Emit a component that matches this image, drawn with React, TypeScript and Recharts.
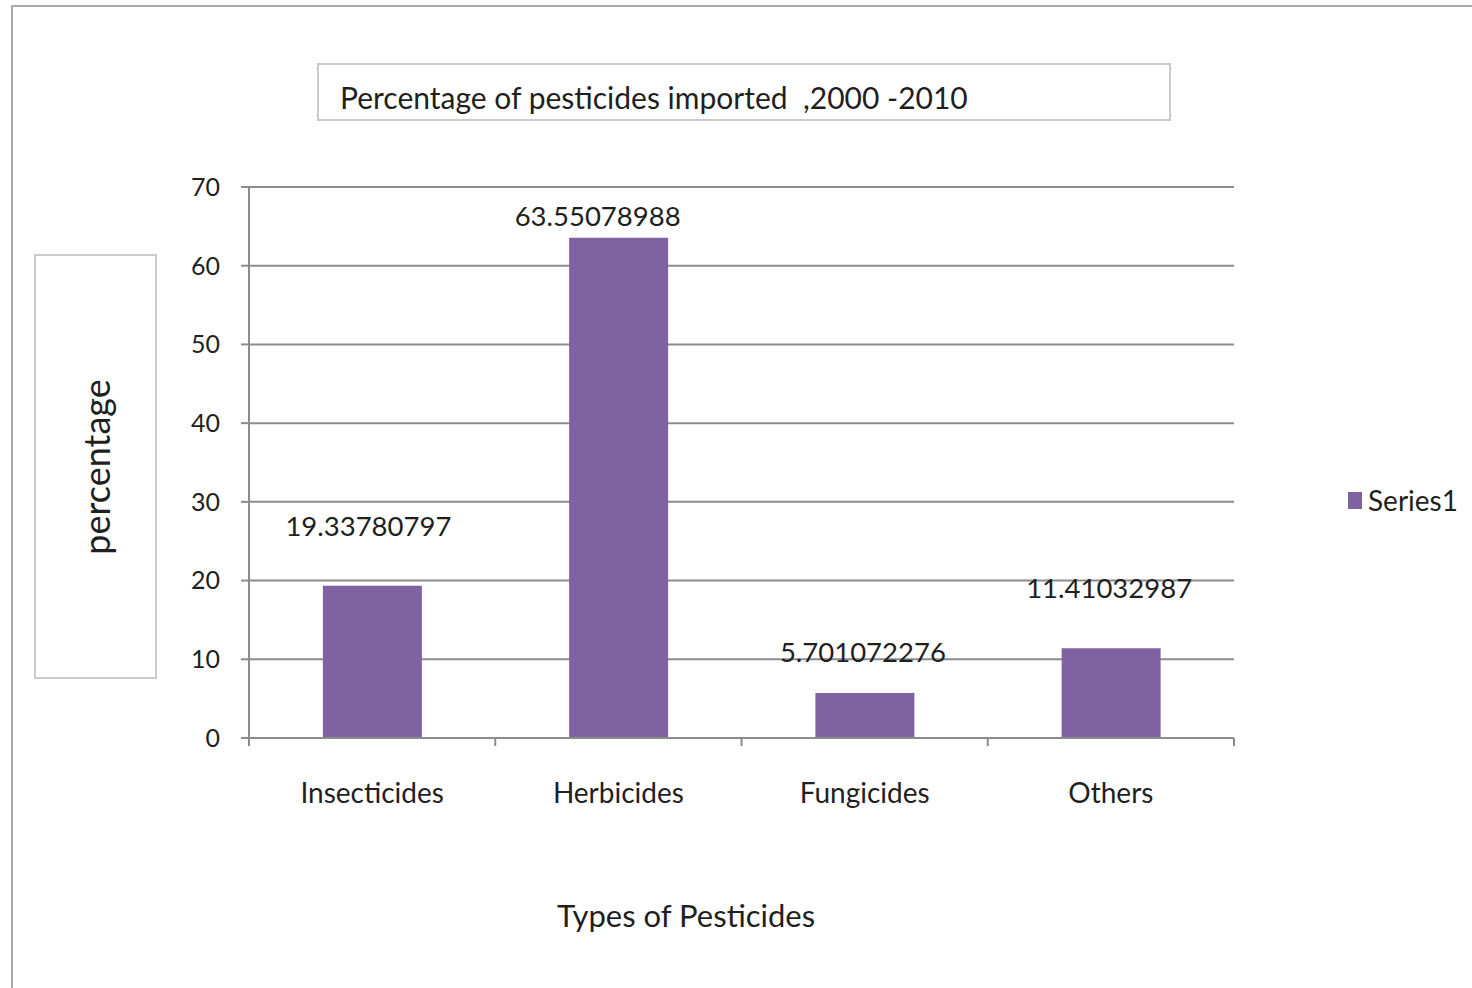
import React from "react";
import { Bar, BarChart, CartesianGrid, LabelList, XAxis, YAxis } from "recharts";

const categories = ["Insecticides", "Herbicides", "Fungicides", "Others"];
const shares = [19.33780797, 63.55078988, 5.701072276, 11.41032987];
const yTicks = [0, 10, 20, 30, 40, 50, 60, 70];
const seriesName = "Series1";

const rows = categories.map((name, i) => ({ name, share: shares[i] }));

// the value labels were dragged around by hand, so each one gets its own nudge
const labelNudge: Record<string, { dx: number; dy: number }> = {
  Insecticides: { dx: -4, dy: -60 },
  Herbicides: { dx: -21, dy: -22 },
  Fungicides: { dx: -2, dy: -42 },
  Others: { dx: -2, dy: -61 },
};

const FONT = "Lato, 'Open Sans', sans-serif";
const PURPLE = "#7f62a1";
const GRID = "#8c8c8c";
const TEXT = "#1f1f1f";

const MARGIN = { top: 187, right: 238, bottom: 190, left: 189 };
const Y_AXIS_W = 60;

// category label plus tick marks on the category boundaries (Excel style)
function CategoryTick(props: any) {
  const { x, y, payload, index, visibleTicksCount } = props;
  const half =
    payload?.offset ?? (1472 - MARGIN.left - Y_AXIS_W - MARGIN.right) / categories.length / 2;
  const last = index === (visibleTicksCount ?? categories.length) - 1;
  return (
    <g>
      <line x1={x - half} y1={y} x2={x - half} y2={y + 8} stroke={GRID} strokeWidth={2} />
      {last && <line x1={x + half} y1={y} x2={x + half} y2={y + 8} stroke={GRID} strokeWidth={2} />}
      <text x={x} y={y + 45} dy="0.71em" textAnchor="middle" fontSize={28} fill={TEXT} fontFamily={FONT}>
        {payload.value}
      </text>
    </g>
  );
}

function ValueLabel(props: any) {
  const { x, y, width, value, index } = props;
  const n = labelNudge[categories[index]] ?? { dx: 0, dy: -20 };
  return (
    <text
      x={x + width / 2 + n.dx}
      y={y + n.dy}
      textAnchor="middle"
      dominantBaseline="central"
      fontSize={27.5}
      fill={TEXT}
      fontFamily={FONT}
    >
      {String(value)}
    </text>
  );
}

export default function App() {
  return (
    <div
      style={{
        position: "absolute",
        left: 0,
        top: 0,
        width: 1472,
        height: 988,
        overflow: "hidden",
        background: "#fff",
        fontFamily: FONT,
        color: TEXT,
      }}
    >
      {/* chart area frame, runs off the right and bottom edges */}
      <div
        style={{
          position: "absolute",
          left: 11,
          top: 5,
          width: 1500,
          height: 1000,
          borderLeft: "2px solid #a9a9a9",
          borderTop: "2px solid #a9a9a9",
        }}
      />

      <BarChart
        width={1472}
        height={988}
        data={rows}
        margin={MARGIN}
        barCategoryGap="30%"
        style={{ position: "absolute", left: 0, top: 0 }}
      >
        <CartesianGrid vertical={false} stroke={GRID} strokeWidth={2} />
        <XAxis
          dataKey="name"
          height={60}
          interval={0}
          tickSize={0}
          tickMargin={0}
          tickLine={false}
          axisLine={{ stroke: GRID, strokeWidth: 2 }}
          tick={<CategoryTick />}
        />
        <YAxis
          width={Y_AXIS_W}
          domain={[0, 70]}
          ticks={yTicks}
          interval={0}
          tickSize={8}
          tickMargin={21}
          axisLine={{ stroke: GRID, strokeWidth: 2 }}
          tickLine={{ stroke: GRID, strokeWidth: 2 }}
          tick={{ fontSize: 25, fill: TEXT, fontFamily: FONT }}
        />
        <Bar dataKey="share" name={seriesName} fill={PURPLE} isAnimationActive={false}>
          <LabelList dataKey="share" content={<ValueLabel />} />
        </Bar>
      </BarChart>

      {/* chart title box */}
      <div
        style={{
          position: "absolute",
          left: 317,
          top: 63,
          width: 829,
          height: 49,
          paddingLeft: 21,
          paddingTop: 5,
          border: "2px solid #cbcbcb",
          fontSize: 30,
          lineHeight: "54px",
          whiteSpace: "pre",
        }}
      >
        {"Percentage of pesticides imported  ,2000 -2010"}
      </div>

      {/* value axis title box */}
      <div
        style={{
          position: "absolute",
          left: 34,
          top: 254,
          width: 119,
          height: 421,
          border: "2px solid #cbcbcb",
        }}
      >
        <div
          style={{
            position: "absolute",
            left: "50%",
            top: "50%",
            transform: "translate(-50%, -50%) rotate(-90deg)",
            fontSize: 36,
            whiteSpace: "nowrap",
          }}
        >
          percentage
        </div>
      </div>

      {/* category axis title */}
      <div
        style={{
          position: "absolute",
          left: 486,
          width: 400,
          top: 895,
          textAlign: "center",
          fontSize: 31,
          lineHeight: "40px",
        }}
      >
        Types of Pesticides
      </div>

      {/* legend */}
      <div style={{ position: "absolute", left: 1348, top: 483, display: "flex", alignItems: "center" }}>
        <div style={{ width: 14, height: 17, background: PURPLE, marginRight: 6 }} />
        <div style={{ fontSize: 28, lineHeight: "34px" }}>{seriesName}</div>
      </div>
    </div>
  );
}
